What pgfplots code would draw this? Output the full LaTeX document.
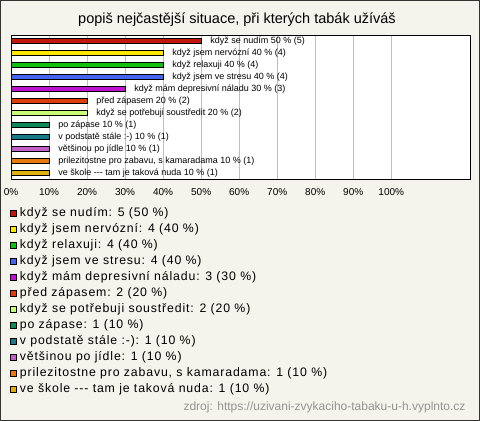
\documentclass[border=0pt]{standalone}
\usepackage{pgfplots}
\pgfplotsset{compat=1.18}
\usepackage{fontspec}
\setmainfont{Liberation Sans}
\newfontfamily\legfont[LetterSpace=7]{Liberation Sans}
\definecolor{bg}{HTML}{F4F3EC}
\definecolor{c1}{HTML}{C0180C}
\definecolor{c2}{HTML}{FFE800}
\definecolor{c3}{HTML}{10C010}
\definecolor{c4}{HTML}{4466EE}
\definecolor{c5}{HTML}{C010D0}
\definecolor{c6}{HTML}{E03C0A}
\definecolor{c7}{HTML}{C8FF78}
\definecolor{c8}{HTML}{108858}
\definecolor{c9}{HTML}{1A7A8A}
\definecolor{c10}{HTML}{C060C8}
\definecolor{c11}{HTML}{E87810}
\definecolor{c12}{HTML}{E0B010}
\begin{document}
\begin{tikzpicture}[x=1pt,y=1pt]
\fill[bg] (0,0) rectangle (480,421);
\draw[black!80, line width=1pt] (0.5,0.5) rectangle (479.5,420.5);
\node[font=\fontsize{14.5}{16}\selectfont] at (237,401) {popiš nejčastější situace, při kterých tabák užíváš};
\node[anchor=east, text=black!42, font=\fontsize{12}{14}\selectfont] at (469,14) {zdroj: https://uzivani-zvykaciho-tabaku-u-h.vyplnto.cz};
\begin{axis}[
  at={(11pt,242pt)}, anchor=south west, scale only axis,
  width=459pt, height=144pt,
  xmin=0, xmax=120.7, ymin=-0.5, ymax=11.5, y dir=reverse,
  axis background/.style={fill=white},
  axis line style={black, line width=0.8pt},
  xtick={0,10,...,100},
  xticklabels={0\%,10\%,20\%,30\%,40\%,50\%,60\%,70\%,80\%,90\%,100\%},
  xticklabel style={font=\fontsize{10}{12}\selectfont, yshift=-6pt},
  ytick=\empty,
  xmajorgrids, grid style={black!25, line width=0.7pt},
  major tick length=0pt,
  xbar, bar width=5pt, bar shift=0pt,
  every axis plot/.append style={draw=black, line width=0.6pt},
  nodes near coords style={font=\fontsize{9}{10}\selectfont, text=black, inner xsep=0pt, xshift=9pt, anchor=west},
  legend image code/.code={\draw[#1, draw=black, line width=0.6pt] (0pt,-3pt) rectangle (6pt,3pt);},
  legend cell align=left,
  legend style={at={(-0.003,-0.195)}, anchor=north west, draw=none, fill=none,
    font=\legfont\fontsize{12.3}{14}\selectfont, row sep=4pt, inner sep=0pt,
    nodes={inner ysep=0pt, inner xsep=3.5pt, text height=9pt, text depth=3pt}},
]
\addplot[fill=c1, nodes near coords={když se nudím 50 \% (5)}] coordinates {(50,0)};
\addlegendentry{když se nudím: 5 (50 \%)}
\addplot[fill=c2, nodes near coords={když jsem nervózní 40 \% (4)}] coordinates {(40,1)};
\addlegendentry{když jsem nervózní: 4 (40 \%)}
\addplot[fill=c3, nodes near coords={když relaxuji 40 \% (4)}] coordinates {(40,2)};
\addlegendentry{když relaxuji: 4 (40 \%)}
\addplot[fill=c4, nodes near coords={když jsem ve stresu 40 \% (4)}] coordinates {(40,3)};
\addlegendentry{když jsem ve stresu: 4 (40 \%)}
\addplot[fill=c5, nodes near coords={když mám depresivní náladu 30 \% (3)}] coordinates {(30,4)};
\addlegendentry{když mám depresivní náladu: 3 (30 \%)}
\addplot[fill=c6, nodes near coords={před zápasem 20 \% (2)}] coordinates {(20,5)};
\addlegendentry{před zápasem: 2 (20 \%)}
\addplot[fill=c7, nodes near coords={když se potřebuji soustředit 20 \% (2)}] coordinates {(20,6)};
\addlegendentry{když se potřebuji soustředit: 2 (20 \%)}
\addplot[fill=c8, nodes near coords={po zápase 10 \% (1)}] coordinates {(10,7)};
\addlegendentry{po zápase: 1 (10 \%)}
\addplot[fill=c9, nodes near coords={v podstatě stále :-) 10 \% (1)}] coordinates {(10,8)};
\addlegendentry{v podstatě stále :-): 1 (10 \%)}
\addplot[fill=c10, nodes near coords={většinou po jídle 10 \% (1)}] coordinates {(10,9)};
\addlegendentry{většinou po jídle: 1 (10 \%)}
\addplot[fill=c11, nodes near coords={prilezitostne pro zabavu, s kamaradama 10 \% (1)}] coordinates {(10,10)};
\addlegendentry{prilezitostne pro zabavu, s kamaradama: 1 (10 \%)}
\addplot[fill=c12, nodes near coords={ve škole -{}-{}- tam je taková nuda 10 \% (1)}] coordinates {(10,11)};
\addlegendentry{ve škole -{}-{}- tam je taková nuda: 1 (10 \%)}
\end{axis}
\end{tikzpicture}
\end{document}
